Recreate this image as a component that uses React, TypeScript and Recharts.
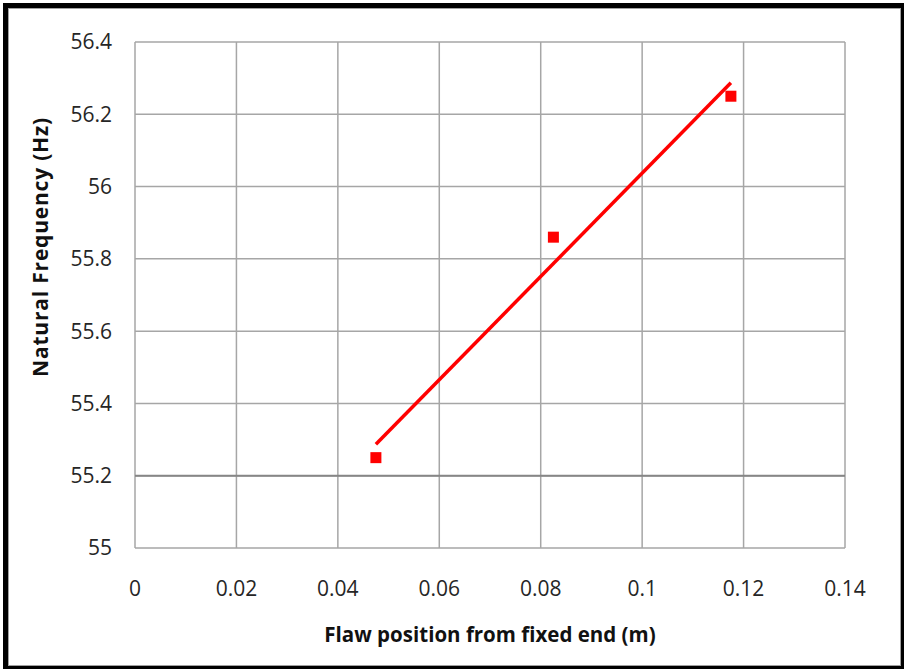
import { ScatterChart, Scatter, XAxis, YAxis, CartesianGrid, ReferenceLine, Label } from 'recharts';

// measured flaw positions (m) and natural frequencies (Hz)
const flawPos = [0.0475, 0.0825, 0.1175];
const natFreq = [55.25, 55.86, 56.25];

// linear trendline end points
const trendX = [0.0475, 0.1175];
const trendY = [55.287, 56.287];

const xTicks = [0, 0.02, 0.04, 0.06, 0.08, 0.1, 0.12, 0.14];
const yTicks = [55, 55.2, 55.4, 55.6, 55.8, 56, 56.2, 56.4];
const axisCross = 55.2;

const FONT = '"Open Sans", sans-serif';
const MARK = 11;

const YTitle = () => (
  <text
    x={40}
    y={247}
    transform="rotate(-90 40 247)"
    textAnchor="middle"
    dominantBaseline="central"
    style={{ fontSize: 21, fontWeight: 700, fontFamily: FONT, fill: '#111', letterSpacing: 0.8 }}
  >
    Natural Frequency (Hz)
  </text>
);

const SquareMark = (props: any) => {
  const { cx, cy } = props;
  if (cx == null || cy == null) return null;
  return <rect x={cx - MARK / 2} y={cy - MARK / 2} width={MARK} height={MARK} fill="#ff0000" />;
};

export default function App() {
  const points = flawPos.map((x, i) => ({ x, y: natFreq[i] }));
  const trend = trendX.map((x, i) => ({ x, y: trendY[i] }));

  return (
    <div style={{ position: 'absolute', left: 0, top: 0, width: 904, height: 669, background: '#fff' }}>
      <div
        style={{
          position: 'absolute',
          left: 3,
          top: 3,
          width: 901,
          height: 666,
          boxSizing: 'border-box',
          borderTop: '5px solid #000',
          borderLeft: '5px solid #000',
          borderRight: '3px solid #000',
          borderBottom: '3px solid #000',
        }}
      >
        <div style={{ width: '100%', height: '100%', boxSizing: 'border-box', border: '1px solid #a0a0a0' }} />
      </div>
      <div style={{ position: 'absolute', left: 0, top: 0 }}>
        <ScatterChart width={904} height={669} margin={{ top: 42, right: 59, left: 0, bottom: 0 }}>
          <CartesianGrid stroke="#a6a6a6" strokeWidth={1.5} />
          <XAxis
            type="number"
            dataKey="x"
            domain={[0, 0.14]}
            ticks={xTicks}
            axisLine={false}
            tickLine={false}
            tickSize={0}
            tickMargin={33}
            height={121}
            tick={{ fill: '#262626', fontSize: 21, fontFamily: FONT }}
          >
            <Label
              value="Flaw position  from fixed end (m)"
              position="insideBottom"
              offset={27}
              style={{ fontSize: 20.5, fontWeight: 700, fontFamily: FONT, fill: '#111', whiteSpace: 'pre' }}
            />
          </XAxis>
          <YAxis
            type="number"
            dataKey="y"
            domain={[55, 56.4]}
            ticks={yTicks}
            axisLine={false}
            tickLine={false}
            tickSize={0}
            tickMargin={23}
            width={135}
            tick={{ fill: '#262626', fontSize: 21, fontFamily: FONT }}
          >
            <Label content={YTitle} />
          </YAxis>
          <ReferenceLine y={axisCross} stroke="#868686" strokeWidth={2} />
          <Scatter
            data={trend}
            line={{ stroke: '#ff0000', strokeWidth: 3.5 }}
            shape={() => null}
            isAnimationActive={false}
          />
          <Scatter data={points} shape={SquareMark} isAnimationActive={false} />
        </ScatterChart>
      </div>
    </div>
  );
}
